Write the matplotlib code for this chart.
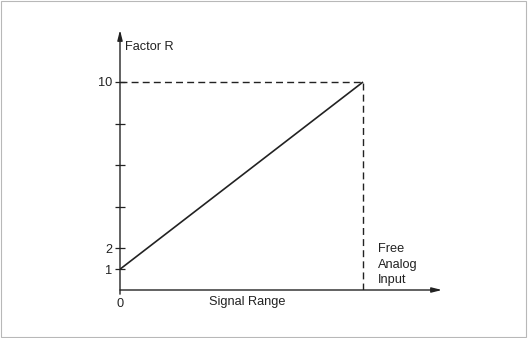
import matplotlib
matplotlib.use("Agg")
import matplotlib.pyplot as plt
from matplotlib.patches import Rectangle

plt.rcParams["font.family"] = ["Liberation Sans", "DejaVu Sans"]

# chart data
signal = [0, 10]
factor = [1, 10]
ytick_values = [1, 2, 4, 6, 8, 10]
ytick_labels = ["1", "2", "", "", "", "10"]
x_max = 10
y_max = 10

ink = "#222222"
fs = 9.2

fig = plt.figure(figsize=(5.28, 3.38), dpi=100)
fig.patch.set_facecolor("white")
fig.add_artist(Rectangle((0.002, 0.004), 0.994, 0.992, transform=fig.transFigure,
                         fill=False, edgecolor="#b8b8b8", linewidth=0.8))

# axes placed so that data (0,0) is at the axis crossing
ax = fig.add_axes([120 / 528, 48 / 338, 322 / 528, 260 / 338])
ax.set_xlim(0, 13.25)
ax.set_ylim(0, 12.5)
ax.set_facecolor("none")
for s in ax.spines.values():
    s.set_visible(False)

# axis arrows
ax.annotate("", xy=(13.25, 0), xytext=(0, 0), annotation_clip=False,
            arrowprops=dict(arrowstyle="-|>,head_length=0.6,head_width=0.15",
                            color=ink, lw=1.0, shrinkA=0, shrinkB=0))
ax.annotate("", xy=(0, 12.5), xytext=(0, -0.2), annotation_clip=False,
            arrowprops=dict(arrowstyle="-|>,head_length=0.6,head_width=0.15",
                            color=ink, lw=1.0, shrinkA=0, shrinkB=0))

# dashed guides
ax.plot([0, x_max], [y_max, y_max], color=ink, lw=1.0, dashes=(5, 3))
ax.plot([x_max, x_max], [0, y_max], color=ink, lw=1.0, dashes=(5, 3))

# main line
ax.plot(signal, factor, color=ink, lw=1.2, solid_capstyle="butt")

ax.set_yticks(ytick_values)
ax.set_yticklabels(ytick_labels)
ax.tick_params(axis="y", direction="inout", length=7, width=0.9, color=ink,
               labelsize=fs, labelcolor=ink, pad=2)
ax.set_xticks([0])
ax.set_xticklabels(["0"])
ax.tick_params(axis="x", length=0, labelsize=fs, labelcolor=ink, pad=6)

ax.text(0.22, 11.7, "Factor R", fontsize=fs, color=ink, va="center", ha="left")
ax.text(5.25, -0.6, "Signal Range", fontsize=fs, color=ink, va="center", ha="center")
ax.text(10.6, 1.22, "Free\nAnalog\nInput", fontsize=fs, color=ink, va="center",
        ha="left", linespacing=1.4)

fig.savefig("out.png", dpi=100)
